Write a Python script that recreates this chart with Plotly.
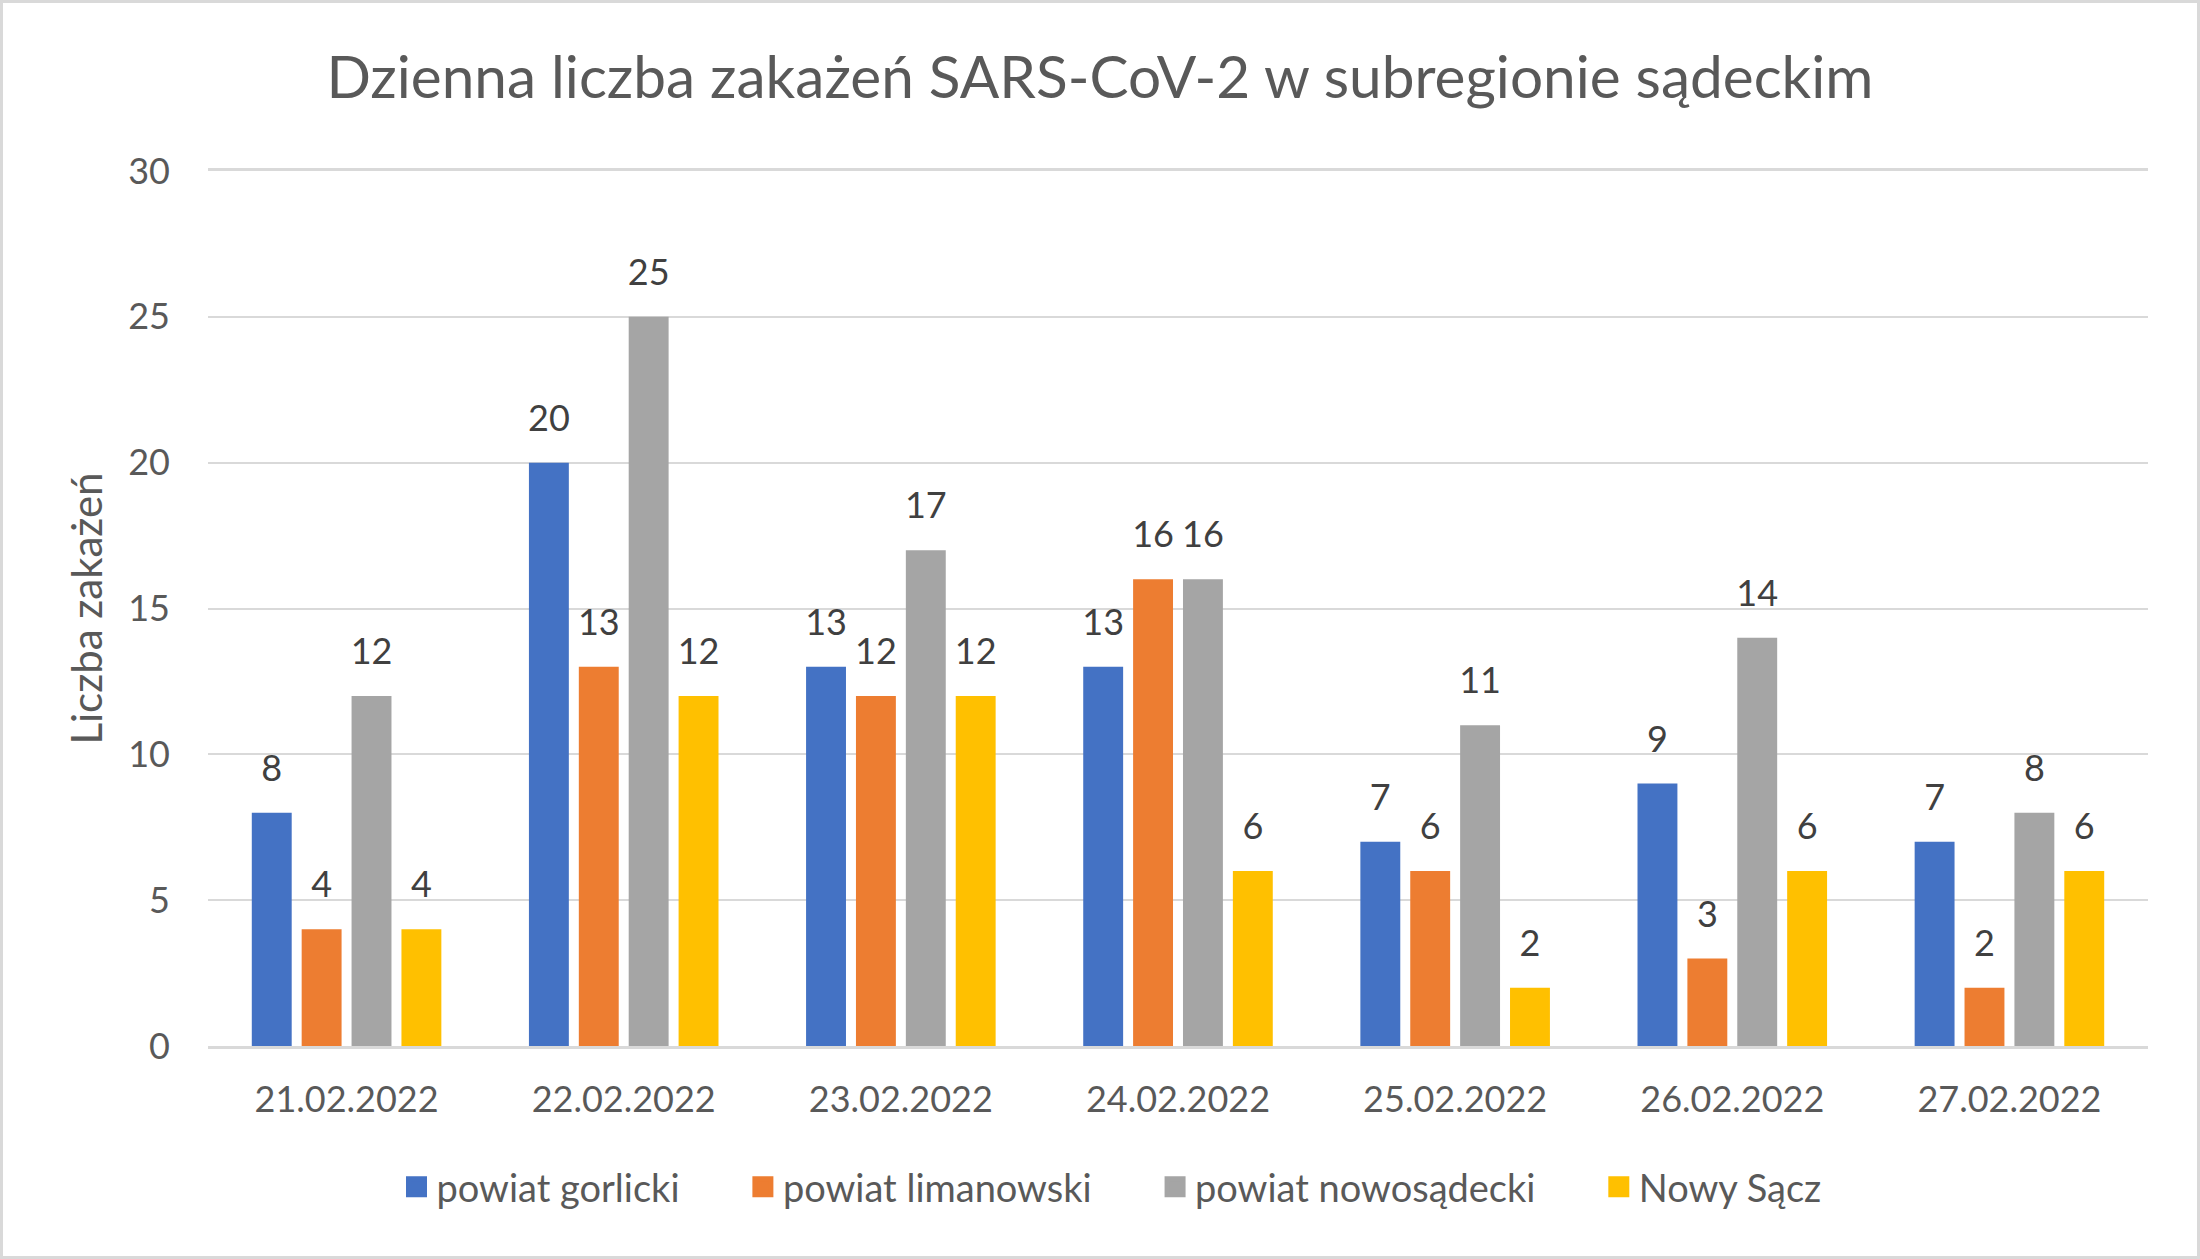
import plotly.graph_objects as go

# ---- data ----
categories = ["21.02.2022", "22.02.2022", "23.02.2022", "24.02.2022",
              "25.02.2022", "26.02.2022", "27.02.2022"]
series_names = ["powiat gorlicki", "powiat limanowski", "powiat nowosądecki", "Nowy Sącz"]
gorlicki = [8, 20, 13, 13, 7, 9, 7]
limanowski = [4, 13, 12, 16, 6, 3, 2]
nowosadecki = [12, 25, 17, 16, 11, 14, 8]
nowy_sacz = [4, 12, 12, 6, 2, 6, 6]
y_ticks = [0, 5, 10, 15, 20, 25, 30]

title_text = "Dzienna liczba zakażeń SARS-CoV-2 w subregionie sądeckim"
y_title = "Liczba zakażeń"

# ---- styles ----
colors = ["#4472C4", "#ED7D31", "#A5A5A5", "#FFC000"]
FONT = "Lato, 'Open Sans', sans-serif"
W, H = 2200, 1259
L, R, T, B = 208, 52, 171, 213
pw, ph = W - L - R, H - T - B

series = [gorlicki, limanowski, nowosadecki, nowy_sacz]

fig = go.Figure()
for i, (name, vals, c) in enumerate(zip(series_names, series, colors)):
    fig.add_trace(go.Bar(
        x=categories, y=vals, name=name, marker=dict(color=c, line=dict(width=0)),
        offsetgroup=f"g{i}", showlegend=False, hoverinfo="skip",
    ))
for i, (name, vals, c) in enumerate(zip(series_names, series, colors)):
    fig.add_trace(go.Scatter(
        x=categories, y=vals, mode="markers+text", text=[str(v) for v in vals],
        textposition="top center", marker=dict(size=35, opacity=0, color=c),
        textfont=dict(family=FONT, size=36, color="#404040"),
        offsetgroup=f"g{i}", showlegend=False, hoverinfo="skip", cliponaxis=False,
    ))
for i, (name, vals, c) in enumerate(zip(series_names, series, colors)):
    fig.add_trace(go.Scatter(
        x=[None], y=[None], mode="markers", name=name + "\u00a0" * 6,
        marker=dict(symbol="square", size=16, color=c, line=dict(color=c, width=5)),
        offsetgroup=f"g{i}", showlegend=True, hoverinfo="skip",
    ))

fig.update_layout(
    width=W, height=H,
    margin=dict(l=L, r=R, t=T, b=B, autoexpand=False),
    paper_bgcolor="white", plot_bgcolor="white",
    barmode="group", bargap=0.28, bargroupgap=0.2,
    scattermode="group", scattergap=0.28,
    font=dict(family=FONT, size=36, color="#595959"),
    title=dict(text=title_text, x=0.5, xref="container", xanchor="center",
               y=1 - 78 / H, yref="container", yanchor="middle",
               font=dict(family=FONT, size=58.5, color="#595959")),
    legend=dict(orientation="h", x=1141 / W, xref="container", xanchor="center",
                y=1 - 1187 / H, yref="container", yanchor="middle",
                font=dict(family=FONT, size=38, color="#595959"),
                bgcolor="rgba(0,0,0,0)"),
    showlegend=True,
)
fig.update_yaxes(
    range=[0, 30], tickvals=y_ticks, ticks="", ticklabelstandoff=37,
    showgrid=True, gridcolor="#D9D9D9", gridwidth=2, zeroline=False,
    showline=False, automargin=False,
    tickfont=dict(family=FONT, size=36, color="#595959"),
    title=dict(text=y_title, standoff=12, font=dict(family=FONT, size=42, color="#595959")),
)
fig.update_xaxes(
    type="category", ticks="", ticklabelstandoff=20, showgrid=False,
    showline=True, mirror=True, linecolor="#D9D9D9", linewidth=2.5, automargin=False,
    tickfont=dict(family=FONT, size=36, color="#595959"),
)
fig.add_shape(type="rect", xref="paper", yref="paper",
              x0=(-L + 1.5) / pw, x1=(pw + R - 1.5) / pw,
              y0=(-B + 1.5) / ph, y1=(ph + T - 1.5) / ph,
              line=dict(color="#D9D9D9", width=3), layer="below")

fig.write_html("out.html")
